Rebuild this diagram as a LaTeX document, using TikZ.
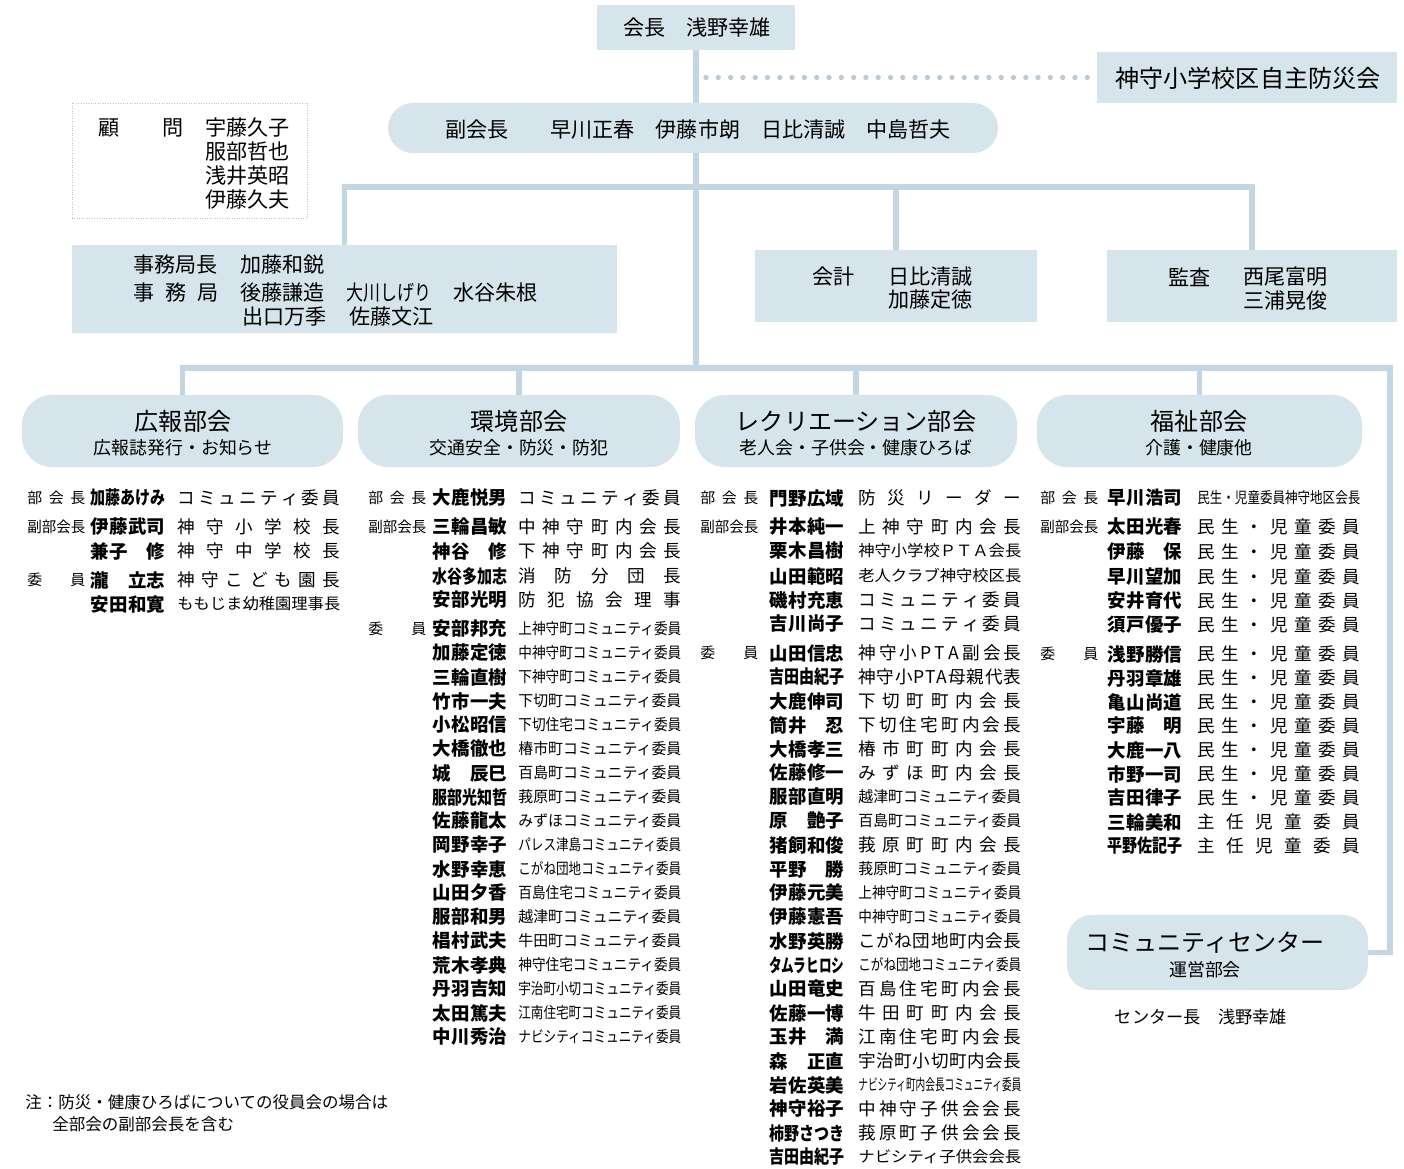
\documentclass[tikz,border=0pt]{standalone}
\usepackage{graphicx}
\usepackage{fontspec}
\setmainfont{Noto Sans CJK JP}
\usetikzlibrary{fit,backgrounds}

\definecolor{boxblue}{RGB}{214,228,236}
\definecolor{linkblue}{RGB}{196,214,226}
\definecolor{dotgray}{RGB}{188,202,212}

% fit a text to a given width: spread the characters, or squeeze them
\makeatletter
\def\spreadloop#1{\ifx#1\@nil\else\spsep#1\let\spsep\hfil\expandafter\spreadloop\fi}
\newcommand\spreadtx[1]{\edef\sptmp{#1}\let\spsep\relax\expandafter\spreadloop\sptmp\@nil}
\newsavebox\fitbox
\newcommand\fitw[3][1]{\sbox\fitbox{#3}\ifdim\wd\fitbox>#2\relax\resizebox{#2}{#1\height}{#3}\else\hbox to #2{\spreadtx{#3}}\fi}
\makeatother

\begin{document}
\begin{tikzpicture}[x=0.02cm, y=-0.02cm,
	orgbox/.style = {fill=boxblue, inner sep=0pt},
	pill/.style = {orgbox, rounded corners=0.5cm},
	link/.style = {draw=linkblue, line width=3.4pt},
	dotlink/.style = {draw=dotgray, line width=3pt, line cap=round, dash pattern=on 0pt off 7pt},
	bigtx/.style = {inner sep=0pt, font=\fontsize{12}{14}\selectfont},
	titletx/.style = {inner sep=0pt, font=\fontsize{13.7}{16}\selectfont},
	subtx/.style = {inner sep=0pt, font=\fontsize{10.2}{12}\selectfont},
	roletx/.style = {anchor=west, inner sep=0pt, font=\fontsize{8.5}{10}\selectfont},
	nametx/.style = {anchor=west, inner sep=0pt, font=\bfseries\fontsize{10.5}{12}\selectfont},
	desctx/.style = {anchor=west, inner sep=0pt, font=\fontsize{10}{12}\selectfont},
	notetx/.style = {anchor=west, inner sep=0pt, font=\fontsize{9.4}{11}\selectfont}]
	\useasboundingbox (0,0) rectangle (1404,1169);

	% top of the chart
	\node[orgbox, fit={(597,5) (795,50)}] (pres) {};
	\node[bigtx] (presT) at (697,28) {会長　浅野幸雄};
	\node[orgbox, fit={(1097,52) (1397,103)}] (bousai) {};
	\node[titletx] (bousaiT) at (1248,78) {神守小学校区自主防災会};
	\node[pill, fit={(388,103) (998,153)}] (vice) {};
	\node[bigtx] (viceT) at (698,130) {副会長　　早川正春　伊藤市朗　日比清誠　中島哲夫};

	\node[fill=white, draw=gray!45, densely dotted, inner sep=0pt, fit={(72,103) (307,218)}] (adv) {};
	\node[bigtx, anchor=west] (advT) at (98,128) {\fitw{1.7cm}{顧問}};
	\foreach \nm [count=\i] in {宇藤久子,服部哲也,浅井英昭,伊藤久夫}
		\node[bigtx, anchor=west] (adv\i) at (205,{104.3+23.7*\i}) {\nm};

	\node[orgbox, fit={(72,245) (617,333)}] (jimu) {};
	\node[bigtx, anchor=west] (jimuT1) at (133,265) {事務局長};
	\node[bigtx, anchor=west] (jimuN1) at (240,265) {加藤和鋭};
	\node[bigtx, anchor=west] (jimuT2) at (133,293) {\fitw{1.7cm}{事務局}};
	\node[bigtx, anchor=west] (jimuN2) at (240,293) {後藤謙造};
	\node[bigtx, anchor=west] (jimuN3) at (346,293) {\fitw{1.7cm}{大川しげり}};
	\node[bigtx, anchor=west] (jimuN4) at (453,293) {水谷朱根};
	\node[bigtx, anchor=west] (jimuN5) at (242,317) {出口万季};
	\node[bigtx, anchor=west] (jimuN6) at (349,317) {佐藤文江};

	\node[orgbox, fit={(755,250) (1037,322)}] (kaikei) {};
	\node[bigtx, anchor=west] (kaikeiT) at (812,277) {会計};
	\node[bigtx, anchor=west] (kaikeiN1) at (888,277) {日比清誠};
	\node[bigtx, anchor=west] (kaikeiN2) at (888,300) {加藤定徳};

	\node[orgbox, fit={(1107,250) (1397,322)}] (kansa) {};
	\node[bigtx, anchor=west] (kansaT) at (1168,277) {監査};
	\node[bigtx, anchor=west] (kansaN1) at (1243,277) {西尾富明};
	\node[bigtx, anchor=west] (kansaN2) at (1243,300) {三浦晃俊};

	% the four sections
	\node[pill, rounded corners=0.6cm, fit={(22,395) (343,467)}] (koho) {};
	\node[titletx] (kohoT) at (183,421) {広報部会};
	\node[subtx] (kohoS) at (183,448) {広報誌発行・お知らせ};
	\node[pill, rounded corners=0.6cm, fit={(358,395) (680,467)}] (kankyo) {};
	\node[titletx] (kankyoT) at (519,421) {環境部会};
	\node[subtx] (kankyoS) at (519,448) {交通安全・防災・防犯};
	\node[pill, rounded corners=0.6cm, fit={(695,395) (1017,467)}] (recre) {};
	\node[titletx] (recreT) at (856,421) {レクリエーション部会};
	\node[subtx] (recreS) at (856,448) {老人会・子供会・健康ひろば};
	\node[pill, rounded corners=0.6cm, fit={(1037,395) (1362,467)}] (fukushi) {};
	\node[titletx] (fukushiT) at (1199,421) {福祉部会};
	\node[subtx] (fukushiS) at (1199,448) {介護・健康他};

	\node[pill, fit={(1067,915) (1368,990)}] (cc) {};
	\node[titletx] (ccT) at (1205,943) {コミュニティセンター};
	\node[subtx] (ccS) at (1205,970) {運営部会};
	\node[inner sep=0pt, font=\fontsize{9.8}{12}\selectfont] (ccHead) at (1201,1017) {センター長　浅野幸雄};

	% connectors
	\coordinate (upper) at (697,187);
	\coordinate (busL) at (181,368);
	\coordinate (busR) at (1390,368);
	\begin{scope}[on background layer]
		\draw[link] (pres.south) -- (pres.south |- busL);
		\draw[dotlink] ([xshift=0.2cm]pres.south |- bousai.west) -- (bousai.west);
		\draw[link] (jimu.north) |- (kansa.north |- upper) -- (kansa.north);
		\draw[link] (kaikei.north) -- (kaikei.north |- upper);
		\draw[link] (koho.north) |- (busR) |- (cc.east);
		\draw[link] (kankyo.north) -- (kankyo.north |- busL);
		\draw[link] (recre.north) -- (recre.north |- busL);
		\draw[link] (fukushi.north) -- (fukushi.north |- busL);
	\end{scope}

	% 広報部会
	\node[roletx] (kohoR1) at (27,498) {\fitw{1.16cm}{部会長}};
	\node[roletx] (kohoR2) at (27,527) {\fitw{1.16cm}{副部会長}};
	\node[roletx] (kohoR3) at (27,580) {\fitw{1.16cm}{委員}};
	\foreach \y/\nm/\ds [count=\i] in {498/加藤あけみ/コミュニティ委員, 527/伊藤武司/神守小学校長,
		551/兼子　修/神守中学校長, 580/瀧　立志/神守こども園長, 604/安田和寛/ももじま幼稚園理事長} {
		\node[nametx] (kohoN\i) at (90,\y) {\fitw{1.5cm}{\nm}};
		\node[desctx] (kohoD\i) at (177,\y) {\fitw[0.88]{3.26cm}{\ds}};
	}

	% 環境部会
	\node[roletx] (kankyoR1) at (368,498) {\fitw{1.16cm}{部会長}};
	\node[roletx] (kankyoR2) at (368,527) {\fitw{1.16cm}{副部会長}};
	\node[roletx] (kankyoR3) at (368,629) {\fitw{1.16cm}{委員}};
	\foreach \y/\nm/\ds [count=\i] in {498/大鹿悦男/コミュニティ委員, 527/三輪昌敏/中神守町内会長,
		551/神谷　修/下神守町内会長, 576/水谷多加志/消防分団長, 600/安部光明/防犯協会理事} {
		\node[nametx] (kankyoN\i) at (432,\y) {\fitw{1.5cm}{\nm}};
		\node[desctx] (kankyoD\i) at (518,\y) {\fitw[0.88]{3.26cm}{\ds}};
	}
	\foreach \nm/\ds [count=\i] in {安部邦充/上神守町コミュニティ委員, 加藤定徳/中神守町コミュニティ委員,
		三輪直樹/下神守町コミュニティ委員, 竹市一夫/下切町コミュニティ委員, 小松昭信/下切住宅コミュニティ委員,
		大橋徹也/椿市町コミュニティ委員, 城　辰巳/百島町コミュニティ委員, 服部光知哲/莪原町コミュニティ委員,
		佐藤龍太/みずほコミュニティ委員, 岡野幸子/パレス津島コミュニティ委員, 水野幸恵/こがね団地コミュニティ委員,
		山田夕香/百島住宅コミュニティ委員, 服部和男/越津町コミュニティ委員, 椙村武夫/牛田町コミュニティ委員,
		荒木孝典/神守住宅コミュニティ委員, 丹羽吉知/宇治町小切コミュニティ委員, 太田篤夫/江南住宅町コミュニティ委員,
		中川秀治/ナビシティコミュニティ委員} {
		\node[nametx] (kankyoM\i) at (432,{605+24*\i}) {\fitw{1.5cm}{\nm}};
		\node[desctx] (kankyoE\i) at (518,{605+24*\i}) {\fitw[0.88]{3.26cm}{\ds}};
	}

	% レクリエーション部会
	\node[roletx] (recreR1) at (700,498) {\fitw{1.16cm}{部会長}};
	\node[roletx] (recreR2) at (700,527) {\fitw{1.16cm}{副部会長}};
	\node[roletx] (recreR3) at (700,653) {\fitw{1.16cm}{委員}};
	\foreach \y/\nm/\ds [count=\i] in {498/門野広域/防災リーダー, 527/井本純一/上神守町内会長,
		551/栗木昌樹/神守小学校ＰＴＡ会長, 576/山田範昭/老人クラブ神守校区長, 600/磯村充恵/コミュニティ委員,
		624/吉川尚子/コミュニティ委員} {
		\node[nametx] (recreN\i) at (769,\y) {\fitw{1.5cm}{\nm}};
		\node[desctx] (recreD\i) at (858,\y) {\fitw[0.88]{3.26cm}{\ds}};
	}
	\foreach \nm/\ds [count=\i] in {山田信忠/神守小PTA副会長, 吉田由紀子/神守小PTA母親代表,
		大鹿伸司/下切町町内会長, 筒井　忍/下切住宅町内会長, 大橋孝三/椿市町町内会長, 佐藤修一/みずほ町内会長,
		服部直明/越津町コミュニティ委員, 原　艶子/百島町コミュニティ委員, 猪飼和俊/莪原町町内会長,
		平野　勝/莪原町コミュニティ委員, 伊藤元美/上神守町コミュニティ委員, 伊藤憲吾/中神守町コミュニティ委員,
		水野英勝/こがね団地町内会長, タムラヒロシ/こがね団地コミュニティ委員, 山田竜史/百島住宅町内会長,
		佐藤一博/牛田町町内会長, 玉井　満/江南住宅町内会長, 森　正直/宇治町小切町内会長,
		岩佐英美/ナビシティ町内会長コミュニティ委員, 神守裕子/中神守子供会会長, 柿野さつき/莪原町子供会会長,
		吉田由紀子/ナビシティ子供会会長} {
		\node[nametx] (recreM\i) at (769,{629+24*\i}) {\fitw{1.5cm}{\nm}};
		\node[desctx] (recreE\i) at (858,{629+24*\i}) {\fitw[0.88]{3.26cm}{\ds}};
	}

	% 福祉部会
	\node[roletx] (fukushiR1) at (1040,498) {\fitw{1.16cm}{部会長}};
	\node[roletx] (fukushiR2) at (1040,527) {\fitw{1.16cm}{副部会長}};
	\node[roletx] (fukushiR3) at (1040,654) {\fitw{1.16cm}{委員}};
	\foreach \y/\nm/\ds [count=\i] in {498/早川浩司/民生・児童委員神守地区会長, 527/太田光春/民生・児童委員,
		552/伊藤　保/民生・児童委員, 577/早川望加/民生・児童委員, 601/安井育代/民生・児童委員,
		625/須戸優子/民生・児童委員} {
		\node[nametx] (fukushiN\i) at (1107,\y) {\fitw{1.5cm}{\nm}};
		\node[desctx] (fukushiD\i) at (1197,\y) {\fitw[0.88]{3.26cm}{\ds}};
	}
	\foreach \nm/\ds [count=\i] in {浅野勝信/民生・児童委員, 丹羽章雄/民生・児童委員, 亀山尚道/民生・児童委員,
		宇藤　明/民生・児童委員, 大鹿一八/民生・児童委員, 市野一司/民生・児童委員, 吉田律子/民生・児童委員,
		三輪美和/主任児童委員, 平野佐記子/主任児童委員} {
		\node[nametx] (fukushiM\i) at (1107,{630+24*\i}) {\fitw{1.5cm}{\nm}};
		\node[desctx] (fukushiE\i) at (1197,{630+24*\i}) {\fitw[0.88]{3.26cm}{\ds}};
	}

	% note
	\node[notetx] (note1) at (25,1102) {注：防災・健康ひろばについての役員会の場合は};
	\node[notetx] (note2) at (52,1124) {全部会の副部会長を含む};
\end{tikzpicture}
\end{document}
